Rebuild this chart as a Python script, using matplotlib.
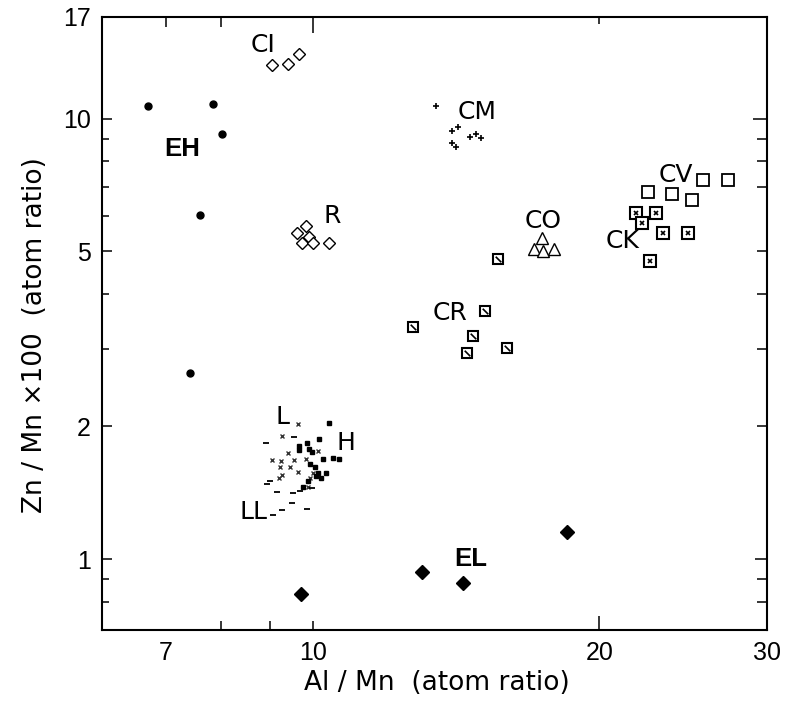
import matplotlib
matplotlib.use("Agg")
import matplotlib.pyplot as plt
from matplotlib.path import Path

plt.rcParams['font.family'] = ['Liberation Sans', 'DejaVu Sans']

# ---------------- data ----------------
eh_x = [6.71, 7.85, 8.02, 7.61, 7.42]
eh_y = [10.65, 10.76, 9.2, 6.03, 2.64]

el_x = [9.71, 13.02, 14.38, 18.5]
el_y = [0.833, 0.934, 0.882, 1.151]

ci_x = [9.06, 9.41, 9.67]
ci_y = [13.2, 13.3, 14.0]

r_x = [9.83, 9.62, 9.90, 9.74, 10.0, 10.39]
r_y = [5.69, 5.49, 5.37, 5.21, 5.21, 5.21]

cm_x = [13.47, 14.0, 14.2, 14.62, 14.84, 15.02, 14.0, 14.14]
cm_y = [10.65, 9.39, 9.59, 9.10, 9.20, 9.05, 8.82, 8.60]

co_x = [17.40, 17.08, 17.45, 17.92]
co_y = [5.35, 5.05, 4.99, 5.05]

cr_x = [15.65, 12.74, 15.17, 14.73, 14.52, 16.0]
cr_y = [4.81, 3.36, 3.65, 3.20, 2.93, 3.02]

cv_x = [22.5, 23.85, 25.04, 25.7, 27.3]
cv_y = [6.80, 6.73, 6.52, 7.24, 7.24]

ck_x = [21.87, 22.95, 22.18, 23.34, 24.8, 22.61]
ck_y = [6.09, 6.09, 5.78, 5.49, 5.49, 4.74]

l_x = [9.64, 9.28, 10.12, 9.41, 9.06, 9.26, 9.55, 9.83, 9.46, 9.23, 9.64, 9.28, 9.93, 10.0, 9.88, 9.21]
l_y = [2.03, 1.90, 1.76, 1.74, 1.68, 1.67, 1.68, 1.69, 1.62, 1.62, 1.58, 1.55, 1.53, 1.57, 1.46, 1.53]

h_x = [10.39, 10.15, 9.67, 9.86, 9.67, 9.90, 9.98, 10.24, 10.49, 10.65, 9.93, 10.05, 10.12, 10.32, 10.07, 10.20, 9.88, 9.76]
h_y = [2.04, 1.87, 1.81, 1.83, 1.77, 1.78, 1.75, 1.69, 1.70, 1.69, 1.64, 1.62, 1.57, 1.57, 1.54, 1.53, 1.50, 1.46]

ll_x = [8.92, 9.55, 9.01, 8.95, 9.17, 9.53, 9.69, 9.08, 9.28, 9.51, 9.86, 9.98]
ll_y = [1.83, 1.89, 1.50, 1.48, 1.42, 1.41, 1.43, 1.26, 1.29, 1.34, 1.30, 1.45]

group_labels = ['CI', 'EH', 'R', 'CM', 'CO', 'CR', 'CV', 'CK', 'L', 'H', 'LL', 'EL']
label_x = [8.86, 7.28, 10.47, 14.88, 17.45, 13.94, 24.09, 21.13, 9.28, 10.83, 8.65, 14.66]
label_y = [14.72, 8.51, 6.0, 10.32, 5.84, 3.61, 7.46, 5.26, 2.10, 1.83, 1.278, 1.0]
label_bold = ['EH', 'EL']

x_ticks = [7, 8, 9, 10, 20, 30]
x_ticklabels = ['7', '', '', '10', '20', '30']
x_len_bottom = [0, 6.5, 6.5, 6.5, 10, 0]
x_len_top = [7.2, 7.2, 0, 11.5, 5, 0]

y_ticks = [0.8, 0.9, 1, 2, 3, 4, 5, 6, 7, 8, 9, 10, 17]
y_ticklabels = ['', '', '1', '2', '', '', '5', '', '', '', '', '10', '17']
y_len_left = [5, 5, 7, 7, 5, 5, 7, 5, 5, 5, 5, 7, 0]
y_len_right = [7, 7, 9, 7, 7, 7, 7, 0, 7, 7, 7, 10, 0]

# ---------------- figure ----------------
fig = plt.figure(figsize=(7.85, 7.04), dpi=100)
ax = fig.add_axes([102/785, 74/704, 665/785, 613/704])
ax.set_xscale('log')
ax.set_yscale('log')
ax.set_xlim(6, 30)
ax.set_ylim(0.69, 17)

k = 'black'
ax.plot(eh_x, eh_y, 'o', color=k, ms=5, ls='none')
ax.plot(el_x, el_y, 'D', color=k, ms=7.5, ls='none')
ax.plot(ci_x, ci_y, 'D', mfc='white', mec=k, mew=1.0, ms=6.5, ls='none')
ax.plot(r_x, r_y, 'D', mfc='white', mec=k, mew=1.0, ms=6.5, ls='none')
ax.plot(cm_x, cm_y, '+', color=k, ms=4, mew=1.2, ls='none')
ax.plot(co_x, co_y, '^', mfc='white', mec=k, mew=1.0, ms=9, ls='none')

slash = Path([(-1, 1), (1, -1)], [Path.MOVETO, Path.LINETO])
ax.plot(cr_x, cr_y, 's', mfc='white', mec=k, mew=1.5, ms=7, ls='none')
ax.plot(cr_x, cr_y, marker=slash, color=k, mew=1.2, ms=4, ls='none')

ax.plot(cv_x, cv_y, 's', mfc='white', mec=k, mew=1.3, ms=8, ls='none')

ax.plot(ck_x, ck_y, 's', mfc='white', mec=k, mew=1.5, ms=8, ls='none')
ax.plot(ck_x, ck_y, 'x', color=k, mew=1.2, ms=3.5, ls='none')

ax.plot(l_x, l_y, 'x', color='#333333', mew=1.0, ms=3.5, ls='none')
ax.plot(h_x, h_y, 's', color=k, ms=2.8, ls='none')
ax.plot(ll_x, ll_y, '_', color=k, mew=1.3, ms=5, ls='none')

for name, lx, ly in zip(group_labels, label_x, label_y):
    if name in label_bold:
        ax.text(lx, ly, name, ha='center', va='center', fontsize=18.5,
                fontweight='bold')
    else:
        ax.text(lx, ly, name, ha='center', va='center', fontsize=18,
                family=['DejaVu Sans'])

# ticks
ax.xaxis.set_minor_locator(matplotlib.ticker.NullLocator())
ax.yaxis.set_minor_locator(matplotlib.ticker.NullLocator())
ax.set_xticks(x_ticks)
ax.set_xticklabels(x_ticklabels)
ax.set_yticks(y_ticks)
ax.set_yticklabels(y_ticklabels)
ax.tick_params(axis='both', which='major', direction='in', width=1.1,
               labelsize=18, top=True, right=True, pad=8)
for t, lb, lt in zip(ax.xaxis.get_major_ticks(), x_len_bottom, x_len_top):
    t.tick1line.set_markersize(lb)
    t.tick2line.set_markersize(lt)
for t, ll, lr in zip(ax.yaxis.get_major_ticks(), y_len_left, y_len_right):
    t.tick1line.set_markersize(ll)
    t.tick2line.set_markersize(lr)

for s in ax.spines.values():
    s.set_linewidth(1.5)

fig.text(437/785, 1 - 683/704, 'Al / Mn  (atom ratio)', ha='center', va='center',
         fontsize=19, family=['DejaVu Sans'])
fig.text(35/785, 1 - 335/704, 'Zn / Mn \u00d7100  (atom ratio)', ha='center', va='center',
         rotation=90, fontsize=19, family=['DejaVu Sans'])

fig.savefig('out.png', dpi=100)
